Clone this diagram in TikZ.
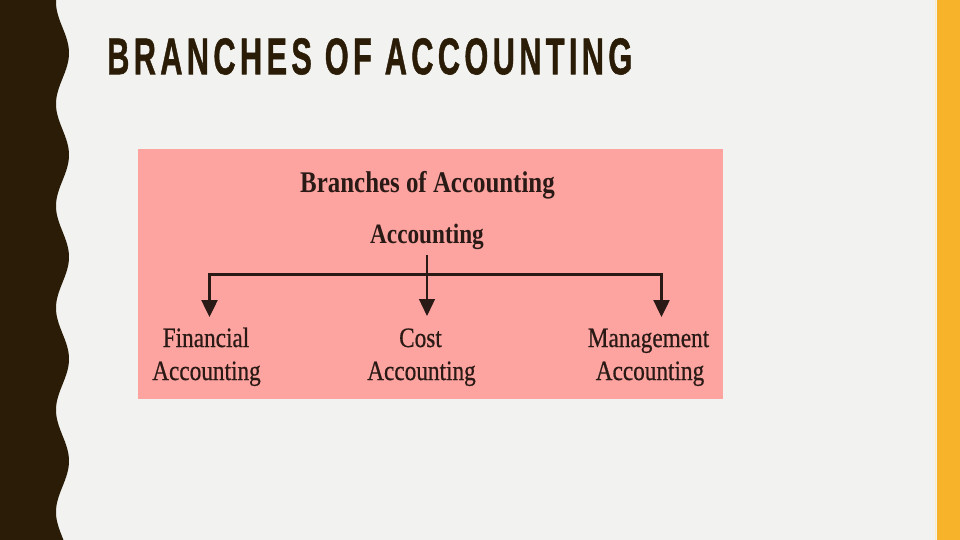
\documentclass[tikz,border=0pt]{standalone}
\usepackage{fontspec}
\usepackage{graphicx}
\usetikzlibrary{arrows.meta}
\newfontfamily\serifc[FakeStretch=0.83,FakeBold=0.6]{Liberation Serif}
\newfontfamily\serifb[FakeStretch=0.83]{Liberation Serif}
\newfontfamily\titlef[LetterSpace=14,FakeBold=1.2]{Liberation Sans}
\definecolor{bgc}{HTML}{F2F2F0}
\definecolor{bandc}{HTML}{2A1C06}
\definecolor{yelc}{HTML}{F7B42B}
\definecolor{palec}{HTML}{FBEDC0}
\definecolor{pinkc}{RGB}{253,163,160}
\definecolor{inkc}{HTML}{2A1A16}
\tikzset{
  lbl/.style={inner sep=0pt, anchor=base, text=inkc, font=\serifc\fontsize{28}{32}\selectfont},
  hdr/.style={lbl, font=\serifb\fontsize{30}{34}\selectfont\bfseries},
  wire/.style={draw=inkc, line width=2.5pt},
  thinwire/.style={draw=inkc, line width=1.3pt},
  tipd/.style={-{Triangle[width=16pt,length=17pt]}}
}
\begin{document}
\begin{tikzpicture}[x=1pt,y=-1pt]
\useasboundingbox (0,0) rectangle (960,540);
\fill[bgc] (0,0) rectangle (960,540);
% left wavy band
\fill[bandc] (0,0) -- plot[domain=0:540,samples=300,variable=\t] ({62.5+6.5*cos(3.5294*(\t-53))},\t) -- (0,540) -- cycle;
% right yellow band
\fill[yelc] (937,0) rectangle (960,540);
\draw[palec, line width=1.2pt] (935.8,0) -- (935.8,540);
% title
\node[inner sep=0pt, anchor=north west, text=bandc] (maintitle) at (107,38)
  {\resizebox{525pt}{36pt}{\titlef\bfseries BRANCHES OF ACCOUNTING}};
% pink panel
\fill[pinkc] (138,149) rectangle (723,399);
\node[hdr] (head) at (427.5,193) {Branches of Accounting};
\node[hdr, font=\serifb\fontsize{28}{32}\selectfont\bfseries] (acc) at (427,243) {Accounting};
\node[lbl] (fin1) at (206,347) {Financial};
\node[lbl] (fin2) at (206.5,380) {Accounting};
\node[lbl] (cost1) at (420.5,347) {Cost};
\node[lbl] (cost2) at (421.5,380) {Accounting};
\node[lbl] (mgmt1) at (648.5,347) {Management};
\node[lbl] (mgmt2) at (650,380) {Accounting};
% connectors
\coordinate (barL) at (209.5,274.5);
\coordinate (barR) at (661.5,274.5);
\coordinate (tipF) at (209.5,317);
\coordinate (tipM) at (661.5,317);
\coordinate (tipC) at (427,316);
\draw[wire, line cap=rect] (barL) -- (barR);
\draw[wire, tipd] (barL) -- (tipF);
\draw[wire, tipd] (barR) -- (tipM);
\draw[thinwire, tipd] ([yshift=-6pt]acc.south) -- (tipC);
\end{tikzpicture}
\end{document}
